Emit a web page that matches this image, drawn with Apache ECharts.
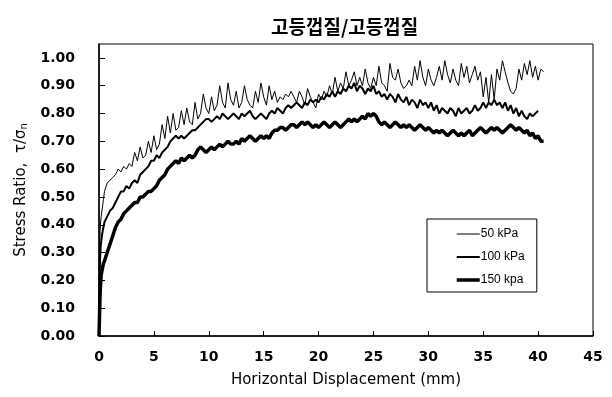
<!DOCTYPE html>
<html>
<head>
<meta charset="utf-8">
<script src="https://cdn.jsdelivr.net/npm/echarts@6/dist/echarts.min.js"></script>
<style>html,body{margin:0;padding:0;background:#fff}#c{width:612px;height:397px}</style>
</head>
<body>
<div id="c"></div>
<script>
const titleText = '고등껍질/고등껍질';
const xTicks = [0, 5, 10, 15, 20, 25, 30, 35, 40, 45];
const yTicks = [0, 0.1, 0.2, 0.3, 0.4, 0.5, 0.6, 0.7, 0.8, 0.9, 1.0];
const seriesNames = ['50 kPa', '100 kPa', '150 kpa'];

// Horizontal displacement (mm)
const disp = [0, 0.05, 0.1, 0.15, 0.2, 0.3, 0.4,
  0.5, 0.75, 1, 1.25, 1.5, 1.75, 2, 2.25, 2.5, 2.75, 3, 3.25, 3.5, 3.75, 4, 4.25, 4.5, 4.75,
  5, 5.25, 5.5, 5.75, 6, 6.25, 6.5, 6.75, 7, 7.25, 7.5, 7.75, 8, 8.25, 8.5, 8.75, 9, 9.25, 9.5, 9.75,
  10, 10.25, 10.5, 10.75, 11, 11.25, 11.5, 11.75, 12, 12.25, 12.5, 12.75, 13, 13.25, 13.5, 13.75, 14, 14.25, 14.5, 14.75,
  15, 15.25, 15.5, 15.75, 16, 16.25, 16.5, 16.75, 17, 17.25, 17.5, 17.75, 18, 18.25, 18.5, 18.75, 19, 19.25, 19.5, 19.75,
  20, 20.25, 20.5, 20.75, 21, 21.25, 21.5, 21.75, 22, 22.25, 22.5, 22.75, 23, 23.25, 23.5, 23.75, 24, 24.25, 24.5, 24.75,
  25, 25.25, 25.5, 25.75, 26, 26.25, 26.5, 26.75, 27, 27.25, 27.5, 27.75, 28, 28.25, 28.5, 28.75, 29, 29.25, 29.5, 29.75,
  30, 30.25, 30.5, 30.75, 31, 31.25, 31.5, 31.75, 32, 32.25, 32.5, 32.75, 33, 33.25, 33.5, 33.75, 34, 34.25, 34.5, 34.75,
  35, 35.25, 35.5, 35.75, 36, 36.25, 36.5, 36.75, 37, 37.25, 37.5, 37.75, 38, 38.25, 38.5, 38.75, 39, 39.25, 39.5, 39.75,
  40, 40.25, 40.5];

// Stress ratio, 50 kPa
const ratio50 = [0.00, 0.30, 0.38, 0.41, 0.43, 0.46, 0.49,
  0.52, 0.55, 0.56, 0.57, 0.58, 0.60, 0.59, 0.61, 0.60, 0.62, 0.61, 0.66, 0.63, 0.68, 0.64, 0.65, 0.70, 0.66,
  0.72, 0.67, 0.69, 0.76, 0.71, 0.79, 0.73, 0.80, 0.74, 0.75, 0.81, 0.76, 0.82, 0.77, 0.76, 0.84, 0.78, 0.80, 0.87, 0.82,
  0.80, 0.86, 0.81, 0.83, 0.90, 0.84, 0.82, 0.91, 0.85, 0.83, 0.88, 0.82, 0.84, 0.90, 0.85, 0.83, 0.82, 0.88, 0.84, 0.91,
  0.86, 0.83, 0.90, 0.85, 0.88, 0.84, 0.86, 0.85, 0.87, 0.86, 0.88, 0.86, 0.84, 0.88, 0.86, 0.83, 0.89, 0.86, 0.84, 0.82,
  0.87, 0.85, 0.88, 0.86, 0.90, 0.87, 0.93, 0.88, 0.91, 0.89, 0.95, 0.90, 0.92, 0.95, 0.90, 0.93, 0.90, 0.96, 0.91, 0.89,
  0.93, 0.90, 0.97, 0.91, 0.90, 0.88, 0.98, 0.93, 0.92, 0.96, 0.91, 0.89, 0.90, 0.92, 0.90, 0.97, 0.92, 0.99, 0.93, 0.90,
  0.96, 0.92, 0.90, 0.93, 0.97, 0.92, 0.99, 0.94, 0.91, 0.96, 0.92, 0.90, 0.98, 0.93, 0.97, 0.91, 0.94, 0.97, 0.92, 0.95,
  0.86, 0.93, 0.84, 0.94, 0.85, 0.96, 0.92, 0.99, 0.95, 0.91, 0.88, 0.87, 0.89, 0.96, 0.92, 0.98, 0.94, 0.99, 0.93, 0.97,
  0.92, 0.96, 0.95];

// Stress ratio, 100 kPa
const ratio100 = [0.00, 0.20, 0.28, 0.32, 0.34, 0.37, 0.39,
  0.41, 0.43, 0.45, 0.46, 0.48, 0.50, 0.52, 0.52, 0.54, 0.53, 0.55, 0.56, 0.55, 0.58, 0.59, 0.60, 0.61, 0.63,
  0.63, 0.65, 0.64, 0.66, 0.67, 0.68, 0.70, 0.71, 0.72, 0.71, 0.72, 0.71, 0.72, 0.73, 0.74, 0.74, 0.75, 0.76, 0.77, 0.78,
  0.78, 0.77, 0.78, 0.79, 0.78, 0.80, 0.79, 0.78, 0.79, 0.80, 0.79, 0.78, 0.80, 0.79, 0.80, 0.81, 0.79, 0.78, 0.79, 0.80,
  0.79, 0.78, 0.80, 0.81, 0.80, 0.82, 0.81, 0.80, 0.82, 0.83, 0.82, 0.83, 0.84, 0.83, 0.82, 0.84, 0.83, 0.85, 0.84, 0.85,
  0.84, 0.86, 0.85, 0.87, 0.86, 0.88, 0.86, 0.88, 0.87, 0.89, 0.88, 0.90, 0.89, 0.91, 0.88, 0.90, 0.89, 0.87, 0.89, 0.88,
  0.90, 0.87, 0.88, 0.86, 0.87, 0.85, 0.87, 0.86, 0.84, 0.87, 0.85, 0.84, 0.86, 0.83, 0.85, 0.84, 0.82, 0.85, 0.83, 0.84,
  0.82, 0.84, 0.81, 0.83, 0.80, 0.82, 0.81, 0.80, 0.82, 0.81, 0.79, 0.82, 0.80, 0.81, 0.82, 0.80, 0.81, 0.83, 0.81, 0.82,
  0.84, 0.82, 0.84, 0.83, 0.85, 0.83, 0.84, 0.82, 0.84, 0.81, 0.83, 0.80, 0.82, 0.79, 0.81, 0.79, 0.78, 0.80, 0.79, 0.80,
  0.81, null, null];

// Stress ratio, 150 kPa
const ratio150 = [0.00, 0.08, 0.15, 0.19, 0.22, 0.24, 0.26,
  0.27, 0.30, 0.33, 0.36, 0.39, 0.41, 0.42, 0.44, 0.45, 0.46, 0.47, 0.48, 0.48, 0.50, 0.50, 0.51, 0.52, 0.52,
  0.53, 0.54, 0.56, 0.57, 0.58, 0.60, 0.61, 0.62, 0.63, 0.62, 0.64, 0.63, 0.64, 0.65, 0.64, 0.65, 0.67, 0.68, 0.67, 0.66,
  0.67, 0.68, 0.67, 0.68, 0.69, 0.68, 0.69, 0.70, 0.69, 0.69, 0.70, 0.69, 0.71, 0.70, 0.71, 0.72, 0.71, 0.70, 0.71, 0.72,
  0.71, 0.72, 0.71, 0.73, 0.74, 0.74, 0.75, 0.75, 0.74, 0.75, 0.76, 0.76, 0.75, 0.76, 0.77, 0.76, 0.77, 0.76, 0.75, 0.76,
  0.75, 0.76, 0.77, 0.76, 0.75, 0.76, 0.77, 0.76, 0.75, 0.76, 0.77, 0.78, 0.77, 0.78, 0.77, 0.78, 0.79, 0.78, 0.80, 0.79,
  0.80, 0.79, 0.77, 0.76, 0.77, 0.76, 0.75, 0.76, 0.77, 0.76, 0.75, 0.76, 0.75, 0.76, 0.75, 0.74, 0.75, 0.76, 0.75, 0.74,
  0.75, 0.74, 0.73, 0.74, 0.73, 0.74, 0.73, 0.72, 0.73, 0.74, 0.73, 0.72, 0.73, 0.72, 0.73, 0.74, 0.72, 0.73, 0.74, 0.75,
  0.74, 0.73, 0.74, 0.75, 0.74, 0.75, 0.74, 0.73, 0.74, 0.75, 0.76, 0.75, 0.74, 0.75, 0.74, 0.73, 0.74, 0.72, 0.73, 0.71,
  0.72, 0.70, 0.70];

const lineWidths = [1, 2, 3.5];
const allRatios = [ratio50, ratio100, ratio150];

function pairs(ys) {
  return disp.map((x, i) => [x, ys[i]]);
}

const chart = echarts.init(document.getElementById('c'));
const numFont = { fontFamily: 'DejaVu Sans', fontSize: 14, fontWeight: 'bold', color: '#000' };

chart.setOption({
  animation: false,
  backgroundColor: '#fff',
  title: {
    text: titleText,
    left: 266,
    top: 12,
    textStyle: { fontFamily: 'Noto Sans CJK KR', fontSize: 19, fontWeight: 'bold', color: '#000' }
  },
  grid: {
    left: 99, right: 19, top: 44, bottom: 61,
    show: true, borderColor: '#000', borderWidth: 1, backgroundColor: 'transparent'
  },
  legend: {
    orient: 'vertical',
    left: 427, top: 219,
    padding: [9, 12, 6, 28],
    itemWidth: 23, itemHeight: 14, itemGap: 11,
    borderColor: '#000', borderWidth: 1,
    backgroundColor: '#fff',
    textStyle: { fontFamily: 'Liberation Sans', fontSize: 12, color: '#000', padding: [0, 0, 0, -4] },
    data: seriesNames.map((n, k) => ({
      name: n,
      itemStyle: { opacity: 0 },
      lineStyle: { width: lineWidths[k], color: '#000' }
    }))
  },
  xAxis: {
    type: 'value', min: 0, max: 45, interval: 5,
    name: 'Horizontal Displacement (mm)',
    nameLocation: 'middle', nameGap: 37,
    nameTextStyle: { fontFamily: 'DejaVu Sans', fontSize: 15, color: '#000' },
    axisLine: { lineStyle: { color: '#000', width: 1.5 } },
    axisTick: { inside: true, length: 5, lineStyle: { color: '#000' } },
    axisLabel: Object.assign({ margin: 14 }, numFont),
    splitLine: { show: false }
  },
  yAxis: {
    type: 'value', min: 0, max: 1.05, interval: 0.1,
    name: '{a|Stress Ratio,  τ/σ}{s|n}',
    nameLocation: 'middle', nameGap: 68, nameRotate: 90,
    nameTextStyle: {
      rich: {
        a: { fontFamily: 'DejaVu Sans', fontSize: 15, color: '#000' },
        s: { fontFamily: 'DejaVu Sans', fontSize: 10, color: '#000', verticalAlign: 'bottom', padding: [6, 0, 0, 0] }
      }
    },
    axisLine: { lineStyle: { color: '#000', width: 1.5 } },
    axisTick: { inside: true, length: 6, lineStyle: { color: '#000' } },
    axisLabel: Object.assign({
      margin: 24,
      showMaxLabel: false,
      formatter: v => (v > 1.0001 ? '' : v.toFixed(2))
    }, numFont),
    splitLine: { show: false }
  },
  series: seriesNames.map((n, k) => ({
    name: n,
    type: 'line',
    data: pairs(allRatios[k]),
    showSymbol: false,
    symbol: 'none',
    connectNulls: false,
    lineStyle: { color: '#000', width: lineWidths[k] },
    itemStyle: { color: '#000' },
    z: 3 - k
  }))
});
</script>
</body>
</html>
